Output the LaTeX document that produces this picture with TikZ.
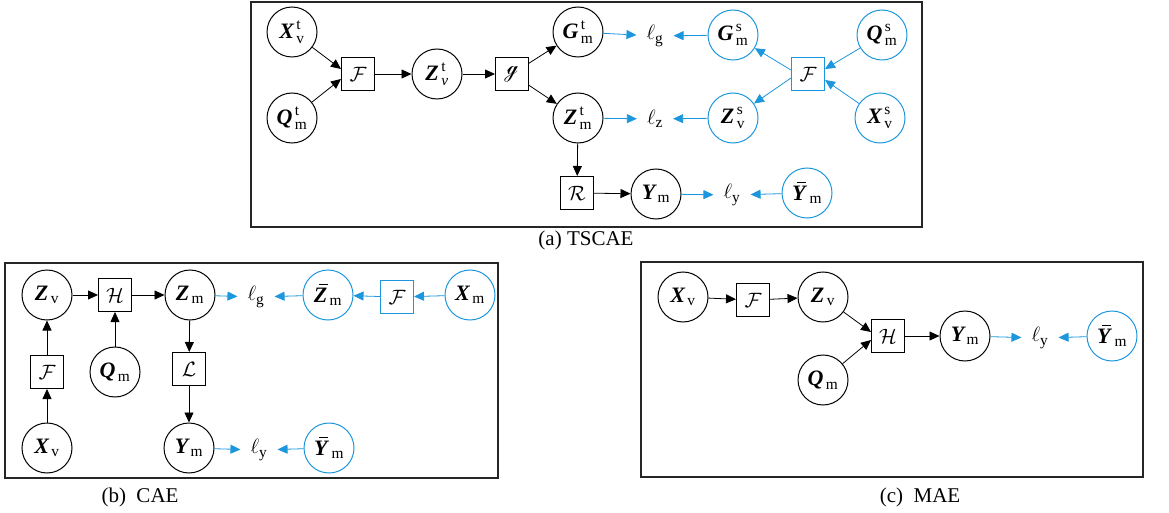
\documentclass[tikz,border=0pt]{standalone}
\usepackage{amsmath}
\usepackage{fontspec}
\setmainfont{Liberation Serif}
\newfontfamily\nsans{Noto Sans}
\usetikzlibrary{arrows.meta}
\definecolor{bl}{RGB}{28,150,220}
\newcommand\vr[3]{$\text{\bfseries\itshape #1}^{\,\text{#2}}_{\,\text{#3}}$}
\newcommand\vs[2]{$\text{\bfseries\itshape #1}_{\,\text{#2}}$}
\newcommand\barltr[1]{\leavevmode\rlap{\hspace{0.22em}\raisebox{0.78em}{\rule{0.42em}{1pt}}}\textbf{\textit{#1}}}
\newcommand\vb[2]{$\text{\barltr{#1}}_{\,\text{#2}}$}
\begin{document}
\begin{tikzpicture}[x=1pt,y=-1pt,
 every node/.style={font=\fontsize{22}{24}\selectfont},
 var/.style={circle,draw,line width=1pt,minimum size=50pt,inner sep=0pt},
 fbox/.style={rectangle,draw,line width=1pt,minimum size=33pt,inner sep=0pt},
 bvar/.style={var,draw=bl},
 bfbox/.style={fbox,draw=bl},
 loss/.style={inner xsep=10pt,inner ysep=2pt},
 arr/.style={-{Triangle[length=10pt,width=9pt]},line width=0.8pt},
 barr/.style={arr,color=bl},
 panel/.style={draw=black!85,line width=1.3pt},
 captext/.style={font=\fontsize{21}{24}\selectfont}
]
\useasboundingbox (0,0) rectangle (1169,513);
% ---------- panel (a)
\draw[panel] (251,2) rectangle (922,227);
\node[var] (Xt) at (292,32) {\vr{X}{t}{v}};
\node[var] (Qt) at (292,118) {\vr{Q}{t}{m}};
\node[fbox] (F1) at (358,74) {$\mathcal{F}$};
\node[var] (Ztv) at (437,74) {\vr{Z}{t}{\itshape v}};
\node[fbox] (G1) at (512,74) {{\nsans\fontsize{20}{22}\selectfont ℊ}};
\node[var] (Gt) at (578,32) {\vr{G}{t}{m}};
\node[var] (Ztm) at (578,118) {\vr{Z}{t}{m}};
\node[fbox] (R1) at (577,193) {$\mathcal{R}$};
\node[var] (Ym1) at (656,194) {\vs{Y}{m}};
\node[loss] (lg1) at (655,36) {$\ell_{\text{g}}$};
\node[loss] (lz1) at (655,119) {$\ell_{\text{z}}$};
\node[loss] (ly1) at (732,195) {$\ell_{\text{y}}$};
\node[bvar] (Gs) at (733,35) {\vr{G}{s}{m}};
\node[bfbox] (Fb1) at (808,74) {$\mathcal{F}$};
\node[bvar] (Qs) at (882,35) {\vr{Q}{s}{m}};
\node[bvar] (Zs) at (733,118) {\vr{Z}{s}{v}};
\node[bvar] (Xs) at (880,118) {\vr{X}{s}{v}};
\node[bvar] (Yb1) at (807,193) {\vb{Y}{m}};
\draw[arr] (Xt) -- ([yshift=5pt]F1.west);
\draw[arr] (Qt) -- ([yshift=-5pt]F1.west);
\draw[arr] (F1) -- (Ztv);
\draw[arr] (Ztv) -- (G1);
\draw[arr] (G1) -- (Gt);
\draw[arr] (G1) -- (Ztm);
\draw[arr] (Ztm) -- (R1);
\draw[arr] (R1) -- (Ym1);
\draw[barr] (Gt) -- (lg1);
\draw[barr] (Gs) -- (lg1);
\draw[barr] (Ztm) -- (lz1);
\draw[barr] (Zs) -- (lz1);
\draw[barr] (Ym1) -- (ly1);
\draw[barr] (Yb1) -- (ly1);
\draw[barr] ([yshift=4pt]Fb1.west) -- (Gs);
\draw[barr] ([yshift=-4pt]Fb1.west) -- (Zs);
\draw[barr] (Qs) -- ([yshift=5pt]Fb1.east);
\draw[barr] (Xs) -- ([yshift=-6pt]Fb1.east);
\node[captext] (ca) at (586,240) {(a) TSCAE};
% ---------- panel (b)
\draw[panel] (5,263) rectangle (498,478);
\node[var] (Zv2) at (47,295) {\vs{Z}{v}};
\node[fbox] (H2) at (115,295) {$\mathcal{H}$};
\node[var] (Zm2) at (190,295) {\vs{Z}{m}};
\node[loss] (lg2) at (256,297) {$\ell_{\text{g}}$};
\node[bvar] (Zb2) at (328,295) {\vb{Z}{m}};
\node[bfbox] (Fb2) at (397,297) {$\mathcal{F}$};
\node[bvar] (Xm2) at (470,295) {\vs{X}{m}};
\node[fbox] (F2) at (47,372) {$\mathcal{F}$};
\node[var] (Qm2) at (115,372) {\vs{Q}{m}};
\node[fbox] (L2) at (189,369) {$\mathcal{L}$};
\node[var] (Xv2) at (47,448) {\vs{X}{v}};
\node[var] (Ym2) at (189,448) {\vs{Y}{m}};
\node[loss] (ly2) at (259,450) {$\ell_{\text{y}}$};
\node[bvar] (Yb2) at (329,448) {\vb{Y}{m}};
\draw[arr] (Xv2) -- (F2);
\draw[arr] (F2) -- (Zv2);
\draw[arr] (Zv2) -- (H2);
\draw[arr] (Qm2) -- (H2);
\draw[arr] (H2) -- (Zm2);
\draw[arr] (Zm2) -- (L2);
\draw[arr] (L2) -- (Ym2);
\draw[barr] (Zm2) -- (lg2);
\draw[barr] (Zb2) -- (lg2);
\draw[barr] (Fb2) -- (Zb2);
\draw[barr] (Xm2) -- (Fb2);
\draw[barr] (Ym2) -- (ly2);
\draw[barr] (Yb2) -- (ly2);
\node[captext] (cb) at (140,497) {(b)\ \ CAE};
% ---------- panel (c)
\draw[panel] (641,262) rectangle (1143,477);
\node[var] (Xv3) at (683,297) {\vs{X}{v}};
\node[fbox] (F3) at (753,300) {$\mathcal{F}$};
\node[var] (Zv3) at (823,297) {\vs{Z}{v}};
\node[fbox] (H3) at (888,336) {$\mathcal{H}$};
\node[var] (Qm3) at (823,380) {\vs{Q}{m}};
\node[var] (Ym3) at (965,336) {\vs{Y}{m}};
\node[loss] (ly3) at (1040,338) {$\ell_{\text{y}}$};
\node[bvar] (Yb3) at (1112,336) {\vb{Y}{m}};
\draw[arr] (Xv3) -- (F3);
\draw[arr] (F3) -- (Zv3);
\draw[arr] (Zv3) -- ([yshift=4pt]H3.west);
\draw[arr] (Qm3) -- ([yshift=-4pt]H3.west);
\draw[arr] (H3) -- (Ym3);
\draw[barr] (Ym3) -- (ly3);
\draw[barr] (Yb3) -- (ly3);
\node[captext] (cc) at (920,497) {(c)\ \ MAE};
\end{tikzpicture}
\end{document}
